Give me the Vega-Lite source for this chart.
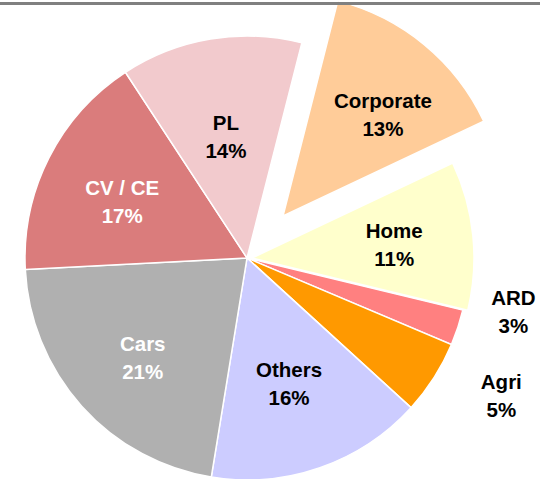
{
  "$schema": "https://vega.github.io/schema/vega-lite/v6.json",
  "width": 494,
  "height": 442,
  "autosize": {"type": "none"},
  "padding": {"left": 0, "top": 37, "right": 46, "bottom": 0},
  "background": "white",
  "config": {"view": {"stroke": null}},
  "data": {
    "values": [
      {"segment": "Corporate", "label": "13%", "share": 14.0, "order": 1},
      {"segment": "Home", "label": "11%", "share": 10.8, "order": 2},
      {"segment": "ARD", "label": "3%", "share": 2.6, "order": 3},
      {"segment": "Agri", "label": "5%", "share": 5.4, "order": 4},
      {"segment": "Others", "label": "16%", "share": 15.8, "order": 5},
      {"segment": "Cars", "label": "21%", "share": 21.6, "order": 6},
      {"segment": "CV / CE", "label": "17%", "share": 16.6, "order": 7},
      {"segment": "PL", "label": "14%", "share": 13.2, "order": 8}
    ]
  },
  "transform": [
    {"stack": "share", "groupby": [], "sort": [{"field": "order", "order": "ascending"}], "as": ["s0", "s1"]},
    {"calculate": "(datum.s0 + datum.s1) / 2", "as": "mid"},
    {"calculate": "[datum.segment, datum.label]", "as": "lines"}
  ],
  "layer": [
    {
      "transform": [{"filter": "datum.segment !== 'Corporate' && datum.segment !== 'Home'"}],
      "mark": {"type": "arc", "radius": 222, "stroke": "white", "strokeWidth": 1.5},
      "encoding": {
        "theta": {"field": "s0", "type": "quantitative", "stack": null, "scale": {"domain": [0, 100], "range": [0.2496, 6.5328]}},
        "theta2": {"field": "s1"},
        "color": {
          "field": "segment", "type": "nominal", "legend": null,
          "scale": {
            "domain": ["Corporate", "Home", "ARD", "Agri", "Others", "Cars", "CV / CE", "PL"],
            "range": ["#FFCC99", "#FFFFCC", "#FF8080", "#FF9900", "#CCCCFF", "#B0B0B0", "#DA7C7C", "#F2CACD"]
          }
        }
      }
    },
    {
      "transform": [{"filter": "datum.segment === 'Home'"}],
      "mark": {"type": "arc", "radius": 222, "stroke": "white", "strokeWidth": 1.5, "xOffset": 5},
      "encoding": {
        "theta": {"field": "s0", "type": "quantitative", "stack": null},
        "theta2": {"field": "s1"},
        "color": {"field": "segment", "type": "nominal", "legend": null}
      }
    },
    {
      "transform": [{"filter": "datum.segment === 'Corporate'"}],
      "mark": {"type": "arc", "radius": 222, "stroke": "white", "strokeWidth": 1.5, "xOffset": 36, "yOffset": -42},
      "encoding": {
        "theta": {"field": "s0", "type": "quantitative", "stack": null},
        "theta2": {"field": "s1"},
        "color": {"field": "segment", "type": "nominal", "legend": null}
      }
    },
    {
      "transform": [{"filter": "datum.segment === 'PL' || datum.segment === 'Others'"}],
      "mark": {"type": "text", "radius": 128, "dy": -8, "font": "Liberation Sans", "fontWeight": "bold", "fontSize": 20.5, "lineHeight": 28, "align": "center", "baseline": "middle", "color": "black"},
      "encoding": {
        "theta": {"field": "mid", "type": "quantitative", "stack": null},
        "text": {"field": "lines"}
      }
    },
    {
      "transform": [{"filter": "datum.segment === 'CV / CE' || datum.segment === 'Cars'"}],
      "mark": {"type": "text", "radius": 140, "dy": -6, "font": "Liberation Sans", "fontWeight": "bold", "fontSize": 20.5, "lineHeight": 28, "align": "center", "baseline": "middle", "color": "white"},
      "encoding": {
        "theta": {"field": "mid", "type": "quantitative", "stack": null},
        "text": {"field": "lines"}
      }
    },
    {
      "transform": [{"filter": "datum.segment === 'Home'"}],
      "mark": {"type": "text", "radius": 143, "dx": 5, "dy": -11, "font": "Liberation Sans", "fontWeight": "bold", "fontSize": 20.5, "lineHeight": 28, "align": "center", "baseline": "middle", "color": "black"},
      "encoding": {
        "theta": {"field": "mid", "type": "quantitative", "stack": null},
        "text": {"field": "lines"}
      }
    },
    {
      "transform": [{"filter": "datum.segment === 'Corporate'"}],
      "mark": {"type": "text", "radius": 143, "dx": 45, "dy": -46, "font": "Liberation Sans", "fontWeight": "bold", "fontSize": 20.5, "lineHeight": 28, "align": "center", "baseline": "middle", "color": "black"},
      "encoding": {
        "theta": {"field": "mid", "type": "quantitative", "stack": null},
        "text": {"field": "lines"}
      }
    },
    {
      "transform": [{"filter": "datum.segment === 'ARD'"}],
      "mark": {"type": "text", "radius": 270, "dx": 10, "dy": -44, "font": "Liberation Sans", "fontWeight": "bold", "fontSize": 20.5, "lineHeight": 28, "align": "center", "baseline": "middle", "color": "black"},
      "encoding": {
        "theta": {"field": "mid", "type": "quantitative", "stack": null},
        "text": {"field": "lines"}
      }
    },
    {
      "transform": [{"filter": "datum.segment === 'Agri'"}],
      "mark": {"type": "text", "radius": 270, "dx": 27, "dy": -21, "font": "Liberation Sans", "fontWeight": "bold", "fontSize": 20.5, "lineHeight": 28, "align": "center", "baseline": "middle", "color": "black"},
      "encoding": {
        "theta": {"field": "mid", "type": "quantitative", "stack": null},
        "text": {"field": "lines"}
      }
    },
    {
      "transform": [{"filter": "datum.order === 1"}],
      "mark": {"type": "rule", "color": "#808080", "strokeWidth": 3},
      "encoding": {
        "x": {"value": 0},
        "x2": {"value": 540},
        "y": {"value": -33.5}
      }
    }
  ]
}
